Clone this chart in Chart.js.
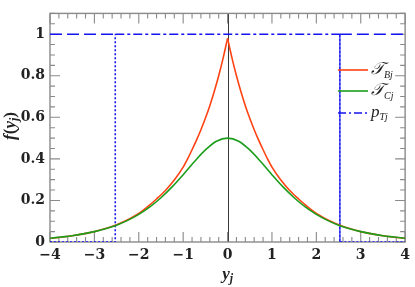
<!DOCTYPE html>
<html><head><meta charset="utf-8">
<script src="https://cdn.jsdelivr.net/npm/chart.js@4/dist/chart.umd.min.js"></script>
<style>html,body{margin:0;padding:0;background:#fff}canvas{display:block}</style>
</head><body>
<canvas id="c" width="415" height="287"></canvas>
<script>
// ---- data ----
const xTicks = [-4, -3, -2, -1, 0, 1, 2, 3, 4];
const yTicks = [0, 0.2, 0.4, 0.6, 0.8, 1];

const tauBx = [-4,-3.75,-3.5,-3.25,-3,-2.75,-2.5,-2.25,-2,-1.8,-1.6,-1.4,-1.2,-1,-0.9,-0.8,-0.7,-0.6,-0.5,-0.4,-0.3,-0.2,-0.1,0,
               0.1,0.2,0.3,0.4,0.5,0.6,0.7,0.8,0.9,1,1.2,1.4,1.6,1.8,2,2.25,2.5,2.75,3,3.25,3.5,3.75,4];
const tauBy = [0.018,0.023,0.030,0.039,0.050,0.065,0.083,0.107,0.137,0.170,0.207,0.248,0.298,0.360,0.400,0.444,0.490,0.540,0.595,0.656,0.724,0.800,0.885,0.980,
               0.885,0.800,0.724,0.656,0.595,0.540,0.490,0.444,0.400,0.360,0.298,0.248,0.207,0.170,0.137,0.107,0.083,0.065,0.050,0.039,0.030,0.023,0.018];

const tauCx = [-4,-3.75,-3.5,-3.25,-3,-2.75,-2.5,-2.25,-2,-1.75,-1.5,-1.25,-1,-0.75,-0.5,-0.25,0,
               0.25,0.5,0.75,1,1.25,1.5,1.75,2,2.25,2.5,2.75,3,3.25,3.5,3.75,4];
const tauCy = [0.018,0.024,0.030,0.039,0.050,0.064,0.081,0.104,0.133,0.169,0.213,0.265,0.324,0.386,0.443,0.485,0.5,
               0.485,0.443,0.386,0.324,0.265,0.213,0.169,0.133,0.104,0.081,0.064,0.050,0.039,0.030,0.024,0.018];

const pTx = [-4, -2.53, -2.53, 2.53, 2.53, 4];
const pTy = [0, 0, 1, 1, 0, 0];
const pTouterX = [-4, -2.53, null, 2.53, 4];
const pTouterY = [1, 1, null, 1, 1];

// ---- styling ----
const RED = '#ff4313', GREEN = '#1c9e1c', BLUE = '#1414f0';
const pts = (xs, ys) => xs.map((x, i) => ({x: x, y: ys[i]}));
const redPts = pts(tauBx, tauBy);
const redLeft = redPts.filter(p => p.x <= 0);
const redRight = redPts.filter(p => p.x >= 0);
const outerPts = pTouterX.map((x, i) => x === null ? {x: 0, y: null} : {x: x, y: pTouterY[i]});

const tickFont = {family: '"DejaVu Serif", serif', size: 14, weight: 'bold'};

function drawRuns(ctx, x, y, runs, align) {
  let w = 0;
  runs.forEach(r => { ctx.font = r.font; r.w = ctx.measureText(r.t).width; w += r.w; });
  let cx = align === 'center' ? x - w / 2 : x;
  ctx.textBaseline = 'alphabetic';
  ctx.textAlign = 'left';
  runs.forEach(r => { ctx.font = r.font; ctx.fillText(r.t, cx, y + (r.dy || 0)); cx += r.w; });
}

const decor = {
  id: 'decor',
  beforeDatasetsDraw(chart) {
    const {ctx, chartArea: a, scales: {x, y}} = chart;
    ctx.save();
    // zero line
    ctx.strokeStyle = '#222'; ctx.lineWidth = 0.9;
    const x0 = Math.round(x.getPixelForValue(0)) + 0.5;
    ctx.beginPath(); ctx.moveTo(x0, a.top); ctx.lineTo(x0, a.bottom); ctx.stroke();
    // inward ticks
    ctx.strokeStyle = '#8a8a8a'; ctx.lineWidth = 1.1;
    ctx.beginPath();
    for (let i = -20; i <= 20; i++) {
      const v = i * 0.2; const px = x.getPixelForValue(v);
      const L = (i % 5 === 0) ? 10 : 5;
      ctx.moveTo(px, a.bottom); ctx.lineTo(px, a.bottom - L);
      ctx.moveTo(px, a.top); ctx.lineTo(px, a.top + L);
    }
    for (let i = 0; i <= 22; i++) {
      const v = i * 0.05; const py = y.getPixelForValue(v);
      const L = (i % 4 === 0 && i <= 20) ? 10 : 5;
      ctx.moveTo(a.left, py); ctx.lineTo(a.left + L, py);
      ctx.moveTo(a.right, py); ctx.lineTo(a.right - L, py);
    }
    ctx.stroke();
    ctx.lineWidth = 1.4;
    ctx.strokeRect(a.left, a.top, a.right - a.left, a.bottom - a.top);
    ctx.restore();
  },
  afterDraw(chart) {
    const {ctx, chartArea: a} = chart;
    ctx.save();
    // axis titles
    ctx.fillStyle = '#222';
    const big = 'italic bold 17px "Liberation Serif", serif';
    const up = 'bold 17px "Liberation Serif", serif';
    const sub = 'italic bold 12px "Liberation Serif", serif';
    drawRuns(ctx, (a.left + a.right) / 2, 279, [{t: 'y', font: big}, {t: 'j', font: sub, dy: 3}], 'center');
    ctx.save();
    ctx.translate(15, 126);
    ctx.rotate(-Math.PI / 2);
    drawRuns(ctx, 0, 0, [{t: 'f', font: big}, {t: '(', font: up}, {t: 'y', font: big}, {t: 'j', font: sub, dy: 3}, {t: ')', font: up}], 'center');
    ctx.restore();

    // legend
    const lx0 = 338, lx1 = 368, tx = 371;
    const rows = [
      {y: 70, color: RED, dash: [], label: [{t: '\u{1D4AF}', font: 'italic 17px "DejaVu Sans", serif'}, {t: 'Bj', font: 'italic 10px "Liberation Serif", serif', dy: 4}]},
      {y: 91, color: GREEN, dash: [], label: [{t: '\u{1D4AF}', font: 'italic 17px "DejaVu Sans", serif'}, {t: 'Cj', font: 'italic 10px "Liberation Serif", serif', dy: 4}]},
      {y: 113, color: BLUE, dash: [8, 3, 2, 3], label: [{t: 'p', font: 'italic 17px "Liberation Serif", serif'}, {t: 'Tj', font: 'italic 10px "Liberation Serif", serif', dy: 3}]}
    ];
    rows.forEach(r => {
      ctx.strokeStyle = r.color; ctx.lineWidth = 1.6; ctx.setLineDash(r.dash);
      ctx.beginPath(); ctx.moveTo(lx0, r.y); ctx.lineTo(lx1, r.y); ctx.stroke();
      ctx.setLineDash([]);
      ctx.fillStyle = '#222';
      drawRuns(ctx, tx, r.y + 4, r.label, 'left');
    });
    ctx.restore();
  }
};

new Chart(document.getElementById('c'), {
  type: 'scatter',
  data: {
    datasets: [
      {label: 'TC', data: pts(tauCx, tauCy), showLine: true, borderColor: GREEN, borderWidth: 1.6, pointRadius: 0, cubicInterpolationMode: 'monotone', order: 0},
      {label: 'TB left', data: redLeft, showLine: true, borderColor: RED, borderWidth: 1.6, pointRadius: 0, cubicInterpolationMode: 'monotone', order: 1},
      {label: 'TB right', data: redRight, showLine: true, borderColor: RED, borderWidth: 1.6, pointRadius: 0, cubicInterpolationMode: 'monotone', order: 1},
      {label: 'pT', data: pts(pTx, pTy), showLine: true, borderColor: BLUE, borderWidth: 1.6, pointRadius: 0, tension: 0, order: 2,
       segment: {borderDash: c => (c.p0.parsed.y === 1 && c.p1.parsed.y === 1) ? [9, 3, 3, 3] : [2, 2]}},
      {label: 'pT outer', data: outerPts, showLine: true, spanGaps: false, borderColor: BLUE, borderWidth: 1.6, borderDash: [12, 5], pointRadius: 0, tension: 0, order: 2}
    ]
  },
  options: {
    responsive: false, animation: false, devicePixelRatio: 1,
    layout: {padding: {top: 5, right: 8, left: 0, bottom: 0}},
    plugins: {legend: {display: false}, tooltip: {enabled: false}},
    scales: {
      x: {
        type: 'linear', min: -4, max: 4,
        afterBuildTicks: s => { s.ticks = xTicks.map(v => ({value: v})); },
        afterFit: s => { s.height = 45; },
        grid: {drawOnChartArea: false, drawTicks: false, color: 'transparent'},
        border: {display: false},
        ticks: {font: tickFont, color: '#222', padding: 5, maxRotation: 0,
                callback: v => String(v).replace('-', '\u2212')}
      },
      y: {
        type: 'linear', min: 0, max: 1.1,
        afterBuildTicks: s => { s.ticks = yTicks.map(v => ({value: v})); },
        afterFit: s => { s.width = 50; },
        grid: {drawOnChartArea: false, drawTicks: false, color: 'transparent'},
        border: {display: false},
        ticks: {font: tickFont, color: '#222', padding: 5, callback: v => String(v)}
      }
    }
  },
  plugins: [decor]
});
</script>
</body></html>
